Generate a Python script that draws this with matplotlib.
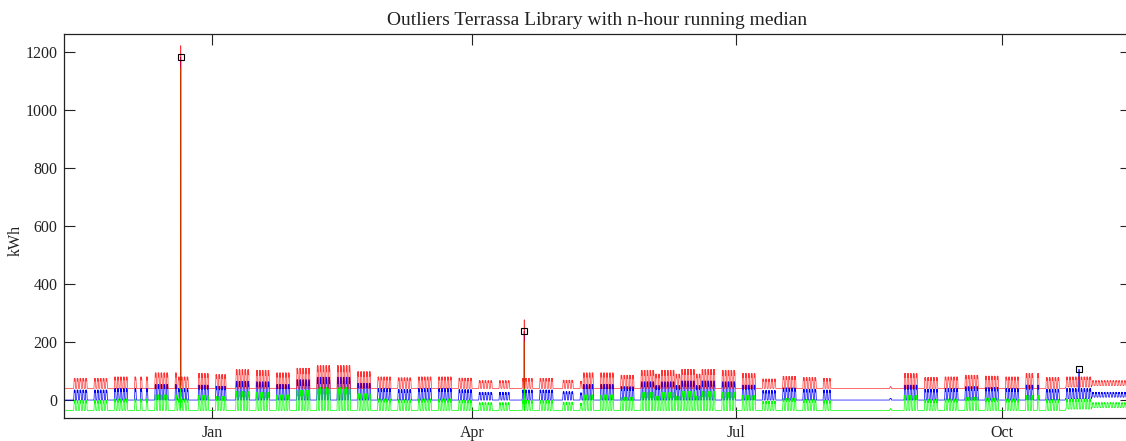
import numpy as np
import pandas as pd
import matplotlib
matplotlib.use("Agg")
import matplotlib.pyplot as plt

# ---------------- data ----------------
START = "2016-11-11"          # first day of the hourly record (Friday)
X_END = "2017-11-14 12:00"

# daily peak consumption (kWh) of the measured series, one row per week (Mon..Sun)
first_days = [0, 0, 0]                                   # Fri 11 - Sun 13 Nov
weekly_peaks = [
    [35, 35, 35, 35, 35, 0, 0],   # Nov 14
    [35, 35, 35, 35, 35, 0, 0],   # Nov 21
    [40, 40, 40, 40, 40, 0, 0],   # Nov 28
    [40, 0, 40, 0, 40, 0, 0],     # Dec 5
    [54, 54, 54, 54, 54, 0, 0],   # Dec 12
    [54, 40, 40, 40, 40, 0, 0],   # Dec 19
    [0, 52, 52, 52, 52, 0, 0],    # Dec 26
    [48, 48, 48, 48, 0, 0, 0],    # Jan 2
    [65, 65, 65, 65, 65, 0, 0],   # Jan 9
    [63, 63, 63, 63, 63, 0, 0],   # Jan 16
    [54, 54, 54, 54, 54, 0, 0],   # Jan 23
    [70, 70, 70, 70, 70, 0, 0],   # Jan 30
    [79, 79, 79, 79, 79, 0, 0],   # Feb 6
    [79, 79, 79, 79, 79, 0, 0],   # Feb 13
    [58, 58, 58, 58, 58, 0, 0],   # Feb 20
    [40, 40, 40, 40, 40, 0, 0],   # Feb 27
    [37, 37, 37, 37, 37, 0, 0],   # Mar 6
    [40, 40, 40, 40, 40, 0, 0],   # Mar 13
    [40, 40, 40, 40, 40, 0, 0],   # Mar 20
    [36, 36, 36, 36, 36, 0, 0],   # Mar 27
    [27, 27, 27, 27, 27, 0, 0],   # Apr 3
    [27, 27, 27, 27, 0, 0, 0],    # Apr 10
    [0, 35, 35, 35, 35, 0, 0],    # Apr 17
    [35, 35, 35, 35, 35, 0, 0],   # Apr 24
    [0, 29, 29, 29, 29, 0, 0],    # May 1
    [25, 54, 54, 54, 54, 0, 0],   # May 8
    [54, 54, 54, 54, 54, 0, 0],   # May 15
    [46, 46, 46, 46, 46, 0, 0],   # May 22
    [63, 63, 63, 63, 63, 50, 50], # May 29
    [63, 63, 63, 63, 63, 50, 50], # Jun 5
    [66, 66, 66, 66, 66, 50, 50], # Jun 12
    [66, 66, 66, 66, 66, 0, 0],   # Jun 19
    [63, 63, 63, 63, 63, 0, 0],   # Jun 26
    [52, 52, 52, 52, 52, 0, 0],   # Jul 3
    [33, 33, 33, 33, 33, 0, 0],   # Jul 10
    [42, 42, 42, 42, 42, 0, 0],   # Jul 17
    [38, 38, 38, 38, 38, 0, 0],   # Jul 24
    [35, 35, 35, 0, 0, 0, 0],     # Jul 31
    [0, 0, 0, 0, 0, 0, 0],        # Aug 7
    [0, 0, 0, 0, 0, 0, 0],        # Aug 14
    [0, 0, 6, 0, 0, 0, 0],        # Aug 21
    [52, 52, 52, 52, 52, 0, 0],   # Aug 28
    [38, 38, 38, 38, 38, 0, 0],   # Sep 4
    [40, 40, 40, 40, 40, 0, 0],   # Sep 11
    [46, 46, 46, 46, 46, 0, 0],   # Sep 18
    [43, 43, 43, 43, 43, 0, 0],   # Sep 25
    [40, 40, 40, 40, 40, 0, 0],   # Oct 2
    [52, 52, 52, 0, 52, 0, 0],    # Oct 9
    [38, 38, 38, 38, 38, 0, 0],   # Oct 16
    [40, 40, 40, 40, 40, 40, 40], # Oct 23
    [40, 40, 27, 27, 27, 27, 27], # Oct 30
    [27, 27, 27, 27, 27, 27, 27], # Nov 6
    [27, 27],                     # Nov 13-14
]

# share of the daily peak reached in each hour of an opening day (0h..23h)
hourly_profile = [0, 0, 0, 0, 0, 0, 0, 0.25, 0.7, 0.9, 0.95, 1.0,
                  0.93, 0.8, 0.72, 0.9, 1.0, 0.94, 0.88, 0.8, 0.5, 0.1, 0, 0]

# periods with a non-zero night level (kWh)
base_start = ["2017-10-23", "2017-11-01"]
base_end = ["2017-11-01", "2017-11-16"]
base_level = [5, 10]

# band offsets of the running-median thresholds (kWh)
UPPER_OFFSET = 40
LOWER_OFFSET = 36

# outliers: time, value, whether the band follows the spike
outlier_time = ["2016-12-21 06:00", "2017-04-18 23:00", "2017-10-27 17:00"]
outlier_value = [1183, 237, 106]
outlier_band_follows = [True, True, False]

title_text = "Outliers Terrassa Library with n-hour running median"
ylabel_text = "kWh"
y_ticks = [0, 200, 400, 600, 800, 1000, 1200]
x_tick_dates = ["2017-01-01", "2017-04-01", "2017-07-01", "2017-10-01"]
x_tick_labels = ["Jan", "Apr", "Jul", "Oct"]
Y_MIN, Y_MAX = -63, 1262

# ---------------- build hourly series ----------------
daily = list(first_days) + [v for wk in weekly_peaks for v in wk]
n_days = len(daily)
t = pd.date_range(START, periods=n_days * 24, freq="h")
prof = np.array(hourly_profile)
base = np.zeros(n_days * 24)
for s, e, b in zip(base_start, base_end, base_level):
    base[(t >= pd.Timestamp(s)) & (t < pd.Timestamp(e))] = b

blue = base.copy()
for d, pk in enumerate(daily):
    sl = slice(d * 24, (d + 1) * 24)
    if pk > 0:
        blue[sl] = base[sl] + (pk - base[sl]) * prof
red = blue + UPPER_OFFSET
green = blue - LOWER_OFFSET

ot = pd.to_datetime(outlier_time)
for tt, v, follow in zip(ot, outlier_value, outlier_band_follows):
    i = int(np.argmin(np.abs(t - tt)))
    blue[i] = v
    if follow:
        red[i] = v + UPPER_OFFSET
        green[i] = v - LOWER_OFFSET

# ---------------- plot ----------------
plt.rcParams["font.family"] = ["Liberation Serif", "DejaVu Serif"]
fig = plt.figure(figsize=(11.26, 4.41), dpi=100)
AX_L, AX_R, AX_T, AX_B = 64.3, 1130.5, 34.3, 418.3
ax = fig.add_axes([AX_L / 1126, (441 - AX_B) / 441, (AX_R - AX_L) / 1126, (AX_B - AX_T) / 441])

lw = 0.5
ax.plot(t, blue, color=(0, 0, 1), lw=lw)
ax.plot(t, green, color=(0, 1, 0), lw=lw)
ax.plot(t, red, color=(1, 0, 0), lw=lw, alpha=0.8)
ax.plot(ot, outlier_value, linestyle="none", marker="s", markersize=5,
        markerfacecolor="none", markeredgecolor="black", markeredgewidth=0.8)

ax.set_xlim(pd.Timestamp(START), pd.Timestamp(X_END))
ax.set_ylim(Y_MIN, Y_MAX)
ax.set_yticks(y_ticks)
ax.set_xticks(pd.to_datetime(x_tick_dates))
ax.set_xticklabels(x_tick_labels)
ax.tick_params(direction="in", length=7.6, width=0.8, top=True, right=True,
               labelsize=11.5, colors="#222222", pad=5)
for sp in ax.spines.values():
    sp.set_linewidth(0.9)
    sp.set_color("#222222")
ax.set_title(title_text, fontsize=14, color="#222222", pad=7)
ax.set_ylabel(ylabel_text, fontsize=11.5, color="#222222")
ax.yaxis.set_label_coords((24 - AX_L) / (AX_R - AX_L), (AX_B - 240) / (AX_B - AX_T))

fig.savefig("out.png", dpi=100)
